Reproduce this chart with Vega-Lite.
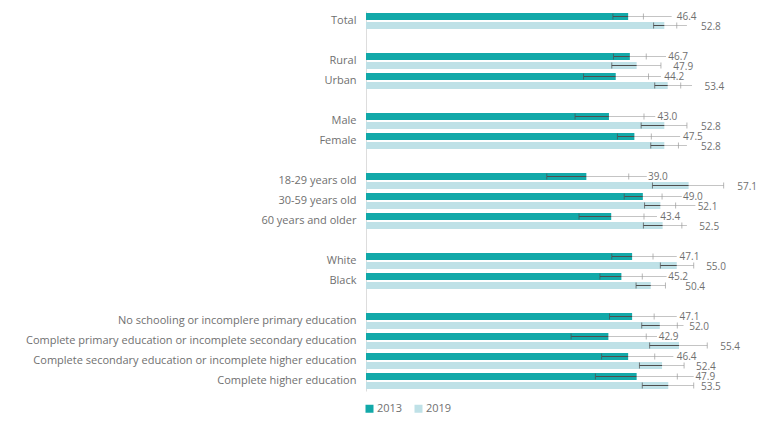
{
  "$schema": "https://vega.github.io/schema/vega-lite/v6.json",
  "width": 339,
  "height": 380,
  "autosize": {"type": "none"},
  "padding": {"left": 366, "top": 11, "right": 74, "bottom": 42},
  "config": {"view": {"stroke": null}, "font": "Open Sans"},
  "data": {"values": [
    {"cat": "Total", "year": "2013", "v": 46.4, "lo": 43.7, "hi": 49.1, "ext": 54.1, "lx": 55.0},
    {"cat": "Total", "year": "2019", "v": 52.8, "lo": 50.9, "hi": 55.0, "ext": 56.8, "lx": 59.3},
    {"cat": "Rural", "year": "2013", "v": 46.7, "lo": 43.8, "hi": 49.6, "ext": 53.1, "lx": 53.5},
    {"cat": "Rural", "year": "2019", "v": 47.9, "lo": 43.5, "hi": 52.2, "ext": 52.2, "lx": 54.4},
    {"cat": "Urban", "year": "2013", "v": 44.2, "lo": 38.5, "hi": 50.0, "ext": 52.2, "lx": 52.8},
    {"cat": "Urban", "year": "2019", "v": 53.4, "lo": 51.1, "hi": 55.7, "ext": 57.7, "lx": 59.9},
    {"cat": "Male", "year": "2013", "v": 43.0, "lo": 37.0, "hi": 49.2, "ext": 51.2, "lx": 51.6},
    {"cat": "Male", "year": "2019", "v": 52.8, "lo": 48.7, "hi": 56.8, "ext": 56.8, "lx": 59.3},
    {"cat": "Female", "year": "2013", "v": 47.5, "lo": 44.5, "hi": 50.5, "ext": 55.6, "lx": 56.1},
    {"cat": "Female", "year": "2019", "v": 52.8, "lo": 50.4, "hi": 55.3, "ext": 56.8, "lx": 59.3},
    {"cat": "18-29 years old", "year": "2013", "v": 39.0, "lo": 32.0, "hi": 46.5, "ext": 49.7, "lx": 49.9},
    {"cat": "18-29 years old", "year": "2019", "v": 57.1, "lo": 50.7, "hi": 63.3, "ext": 63.3, "lx": 65.7},
    {"cat": "30-59 years old", "year": "2013", "v": 49.0, "lo": 45.7, "hi": 52.4, "ext": 55.9, "lx": 56.1},
    {"cat": "30-59 years old", "year": "2019", "v": 52.1, "lo": 49.3, "hi": 54.8, "ext": 58.3, "lx": 58.7},
    {"cat": "60 years and older", "year": "2013", "v": 43.4, "lo": 37.7, "hi": 49.2, "ext": 51.5, "lx": 52.1},
    {"cat": "60 years and older", "year": "2019", "v": 52.5, "lo": 49.1, "hi": 55.9, "ext": 56.8, "lx": 59.0},
    {"cat": "White", "year": "2013", "v": 47.1, "lo": 43.5, "hi": 50.8, "ext": 55.0, "lx": 55.5},
    {"cat": "White", "year": "2019", "v": 55.0, "lo": 52.1, "hi": 58.0, "ext": 58.0, "lx": 60.2},
    {"cat": "Black", "year": "2013", "v": 45.2, "lo": 41.4, "hi": 48.9, "ext": 53.2, "lx": 53.5},
    {"cat": "Black", "year": "2019", "v": 50.4, "lo": 47.8, "hi": 53.0, "ext": 53.0, "lx": 56.5},
    {"cat": "No schooling or incomplere primary education", "year": "2013", "v": 47.1, "lo": 43.1, "hi": 51.0, "ext": 55.0, "lx": 55.5},
    {"cat": "No schooling or incomplere primary education", "year": "2019", "v": 52.0, "lo": 48.8, "hi": 55.1, "ext": 56.2, "lx": 57.2},
    {"cat": "Complete primary education or incomplete secondary education", "year": "2013", "v": 42.9, "lo": 36.3, "hi": 49.6, "ext": 51.5, "lx": 51.8},
    {"cat": "Complete primary education or incomplete secondary education", "year": "2019", "v": 55.4, "lo": 50.2, "hi": 60.4, "ext": 60.4, "lx": 62.7},
    {"cat": "Complete secondary education or incomplete higher education", "year": "2013", "v": 46.4, "lo": 41.7, "hi": 51.1, "ext": 54.4, "lx": 55.0},
    {"cat": "Complete secondary education or incomplete higher education", "year": "2019", "v": 52.4, "lo": 48.4, "hi": 56.3, "ext": 56.3, "lx": 58.4},
    {"cat": "Complete higher education", "year": "2013", "v": 47.9, "lo": 40.6, "hi": 55.1, "ext": 58.0, "lx": 58.3},
    {"cat": "Complete higher education", "year": "2019", "v": 53.5, "lo": 48.9, "hi": 58.0, "ext": 58.0, "lx": 59.3}
  ]},
  "encoding": {
    "y": {
      "field": "cat", "type": "nominal",
      "scale": {"domain": ["Total", "_1", "Rural", "Urban", "_2", "Male", "Female", "_3", "18-29 years old", "30-59 years old", "60 years and older", "_4", "White", "Black", "_5", "No schooling or incomplere primary education", "Complete primary education or incomplete secondary education", "Complete secondary education or incomplete higher education", "Complete higher education"], "paddingInner": 0, "paddingOuter": 0},
      "axis": {"title": null, "ticks": false, "labelPadding": 10, "labelLimit": 400, "labelFontSize": 11, "labelColor": "#707070", "domainColor": "#dddddd", "labelExpr": "indexof(datum.label, '_') == 0 ? '' : datum.label"}
    },
    "yOffset": {"field": "year", "type": "nominal", "scale": {"paddingInner": 0.2, "paddingOuter": 0.21}}
  },
  "layer": [
    {
      "mark": {"type": "bar"},
      "encoding": {
        "x": {"field": "v", "type": "quantitative", "scale": {"domain": [0, 60], "nice": false}, "axis": null},
        "color": {"field": "year", "type": "nominal", "scale": {"domain": ["2013", "2019"], "range": ["#12a9a9", "#bfe1e7"]},
          "legend": {"title": null, "orient": "none", "legendX": -2, "legendY": 392, "direction": "horizontal", "symbolType": "square", "symbolSize": 64, "symbolStrokeWidth": 0, "labelFontSize": 11, "labelColor": "#707070", "columnPadding": 10, "labelOffset": 2}}
      }
    },
    {
      "mark": {"type": "rule", "color": "#c4c4c4", "strokeWidth": 1},
      "encoding": {"x": {"field": "lo", "type": "quantitative"}, "x2": {"field": "ext"}}
    },
    {
      "mark": {"type": "rule", "color": "#4d4d4d", "strokeWidth": 1},
      "encoding": {"x": {"field": "lo", "type": "quantitative"}, "x2": {"field": "v"}}
    },
    {
      "mark": {"type": "tick", "orient": "vertical", "color": "#4d4d4d", "size": 6, "thickness": 1},
      "encoding": {"x": {"field": "lo", "type": "quantitative"}}
    },
    {
      "mark": {"type": "tick", "orient": "vertical", "color": "#999999", "size": 6, "thickness": 1},
      "encoding": {"x": {"field": "hi", "type": "quantitative"}}
    },
    {
      "mark": {"type": "text", "align": "left", "baseline": "middle", "dy": 1, "fontSize": 10, "color": "#707070"},
      "encoding": {"x": {"field": "lx", "type": "quantitative"}, "text": {"field": "v", "type": "quantitative", "format": ".1f"}}
    }
  ]
}
